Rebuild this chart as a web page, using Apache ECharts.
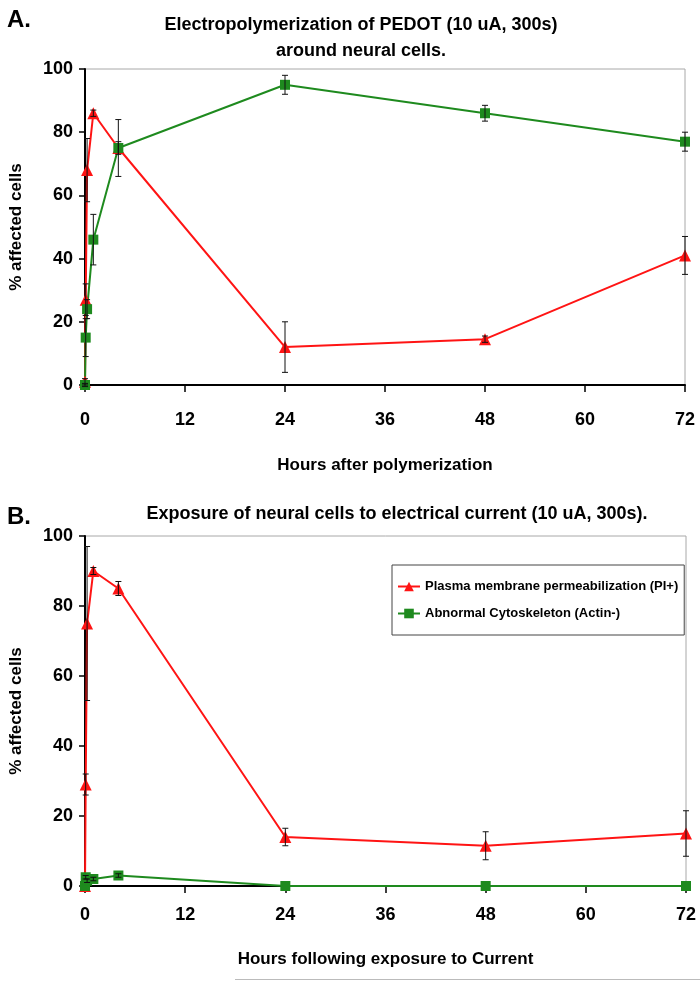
<!DOCTYPE html>
<html>
<head>
<meta charset="utf-8">
<script src="https://cdn.jsdelivr.net/npm/echarts@6/dist/echarts.min.js"></script>
<style>html,body{margin:0;padding:0;background:#fff;}#c{width:700px;height:981px;}</style>
</head>
<body>
<div id="c"></div>
<script>
// ---- data ----
const hours = [0, 0.083, 0.25, 1, 4, 24, 48, 72];
const xTicks = [0, 12, 24, 36, 48, 60, 72];
// Panel A: electropolymerization of PEDOT
const piA      = [1, 27, 68, 86, 75, 12, 14.5, 41];
const piAErr   = [1, 5, 10, 1, 2, 8, 1, 6];
const actinA   = [0, 15, 24, 46, 75, 95, 86, 77];
const actinAErr= [0.5, 6, 3, 8, 9, 3, 2.5, 3];
// Panel B: exposure to current
const piB      = [0, 29, 75, 90, 85, 14, 11.5, 15];
const piBErr   = [0, 3, 22, 1, 2, 2.5, 4, 6.5];
const actinB   = [0, 2.5, 1.5, 2, 3, 0, 0, 0];
const actinBErr= [0, 0.5, 0.5, 0.5, 0.5, 0, 0, 0];

const nameRed = 'Plasma membrane permeabilization (PI+)';
const nameGreen = 'Abnormal Cytoskeleton (Actin-)';

const RED = '#ff1414';
const GREEN = '#1e8a1e';
const FF = "'Liberation Sans', Arial, sans-serif";

function hasFont(f){
  const c = document.createElement('canvas').getContext('2d');
  const s = 'Plasma membrane mmm iii WWW';
  c.font = 'bold 20px monospace'; const a = c.measureText(s).width;
  c.font = "bold 20px '" + f + "', monospace"; const b = c.measureText(s).width;
  return Math.abs(a - b) > 0.5;
}
const narrow = hasFont('Liberation Sans Narrow');
const legendFont = narrow ? "'Liberation Sans Narrow', " + FF : FF;
const legendSize = narrow ? 15 : 13;

const pairs = (ys) => hours.map((h, i) => [h, ys[i]]);
const errData = (ys, es) => hours.map((h, i) => [h, ys[i], es[i]]).filter(d => d[2] > 0);

function errRender(params, api){
  const x = api.value(0), y = api.value(1), e = api.value(2);
  const t = api.coord([x, y + e]), b = api.coord([x, y - e]);
  const w = 3;
  const st = {stroke: '#111', lineWidth: 1};
  return {type: 'group', children: [
    {type: 'line', shape: {x1: t[0], y1: t[1], x2: b[0], y2: b[1]}, style: st},
    {type: 'line', shape: {x1: t[0]-w, y1: t[1], x2: t[0]+w, y2: t[1]}, style: st},
    {type: 'line', shape: {x1: b[0]-w, y1: b[1], x2: b[0]+w, y2: b[1]}, style: st}
  ]};
}

function xAxis(idx, name){
  return {
    gridIndex: idx, type: 'value', min: 0, max: 72, interval: 12,
    name: name, nameLocation: 'middle', nameGap: idx === 0 ? 72 : 65,
    nameTextStyle: {fontFamily: FF, fontWeight: 'bold', fontSize: 17, color: '#000'},
    axisLine: {show: true, onZero: false, lineStyle: {color: '#000', width: 2}},
    axisTick: {show: true, length: 7, lineStyle: {color: '#000', width: 1.5}},
    axisLabel: {margin: idx === 0 ? 26 : 20, fontFamily: FF, fontWeight: 'bold', fontSize: 18, color: '#000',
      formatter: v => xTicks.includes(v) ? String(v) : ''},
    splitLine: {show: false}
  };
}
function yAxis(idx){
  return {
    gridIndex: idx, type: 'value', min: 0, max: 100, interval: 20,
    name: '% affected cells', nameLocation: 'middle', nameGap: 60,
    nameTextStyle: {fontFamily: FF, fontWeight: 'bold', fontSize: 17, color: '#000'},
    axisLine: {show: true, lineStyle: {color: '#000', width: 2}},
    axisTick: {show: true, length: 6, lineStyle: {color: '#000', width: 1.5}},
    axisLabel: {margin: 12, fontFamily: FF, fontWeight: 'bold', fontSize: 18, color: '#000'},
    splitLine: {show: false}
  };
}

function lineSeries(name, idx, ys, color, symbol, size){
  return {
    name: name, type: 'line', xAxisIndex: idx, yAxisIndex: idx,
    data: pairs(ys), symbol: symbol, symbolSize: size, clip: false,
    lineStyle: {color: color, width: 2}, itemStyle: {color: color},
    emphasis: {disabled: true}, z: 2
  };
}
function errSeries(idx, ys, es){
  return {type: 'custom', xAxisIndex: idx, yAxisIndex: idx, data: errData(ys, es),
    renderItem: errRender, clip: false, z: 3, silent: true};
}

const option = {
  animation: false,
  backgroundColor: '#fff',
  title: [
    {text: 'A.', left: 2, top: 3, textStyle: {fontFamily: FF, fontWeight: 'bold', fontSize: 24, color: '#000'}},
    {text: 'Electropolymerization of PEDOT (10 uA, 300s)\naround neural cells.', left: 356, top: 7, textAlign: 'center',
      textStyle: {fontFamily: FF, fontWeight: 'bold', fontSize: 18, lineHeight: 26, color: '#000'}},
    {text: 'B.', left: 2, top: 500, textStyle: {fontFamily: FF, fontWeight: 'bold', fontSize: 24, color: '#000'}},
    {text: 'Exposure of neural cells to electrical current (10 uA, 300s).', left: 392, top: 500, textAlign: 'center',
      textStyle: {fontFamily: FF, fontWeight: 'bold', fontSize: 18, color: '#000'}}
  ],
  grid: [
    {left: 84, right: 15, top: 69, height: 316, show: true, borderColor: '#a8a8a8', borderWidth: 1, backgroundColor: 'transparent'},
    {left: 84, right: 14, top: 536, height: 350, show: true, borderColor: '#a8a8a8', borderWidth: 1, backgroundColor: 'transparent'}
  ],
  xAxis: [xAxis(0, 'Hours after polymerization'), xAxis(1, 'Hours following exposure to Current')],
  yAxis: [yAxis(0), yAxis(1)],
  legend: {
    data: [nameRed, nameGreen], orient: 'vertical', left: 392, top: 565,
    backgroundColor: '#fff', borderColor: '#444', borderWidth: 1, padding: [15, 6, 15, 5],
    itemGap: 14, itemWidth: 22, itemHeight: 12, selectedMode: false,
    textStyle: {fontFamily: legendFont, fontWeight: 'bold', fontSize: legendSize, color: '#000'}
  },
  graphic: [
    {type: 'line', shape: {x1: 235, y1: 979.5, x2: 700, y2: 979.5}, style: {stroke: '#bbb', lineWidth: 1}}
  ],
  series: [
    lineSeries('A-PI', 0, piA, RED, 'triangle', 12),
    lineSeries('A-Actin', 0, actinA, GREEN, 'rect', 10),
    errSeries(0, piA, piAErr),
    errSeries(0, actinA, actinAErr),
    lineSeries(nameRed, 1, piB, RED, 'triangle', 12),
    lineSeries(nameGreen, 1, actinB, GREEN, 'rect', 10),
    errSeries(1, piB, piBErr),
    errSeries(1, actinB, actinBErr)
  ]
};

const chart = echarts.init(document.getElementById('c'), null, {renderer: 'canvas'});
chart.setOption(option);
</script>
</body>
</html>
